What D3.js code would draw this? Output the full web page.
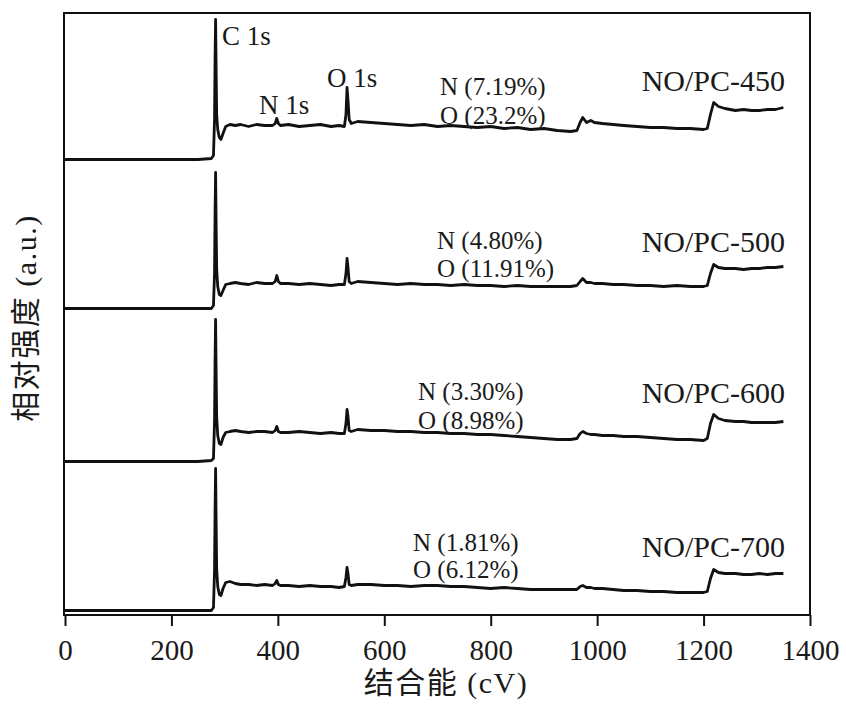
<!DOCTYPE html>
<html><head><meta charset="utf-8">
<script src="https://cdn.jsdelivr.net/npm/d3@7"></script>
<style>
html,body{margin:0;padding:0;background:#fff;}
svg text{font-family:"Liberation Serif","Times New Roman","Noto Sans CJK SC",serif;fill:#1a1a1a;}
</style></head>
<body>
<svg id="chart" width="846" height="709"></svg>
<script>
// ---- data ----
const energy = [0, 50, 100, 150, 200, 250, 275, 279, 281, 282, 283, 284, 285, 287, 290, 293, 297, 302, 310, 320, 330, 345, 360, 375, 390, 395, 398, 401, 405, 420, 440, 460, 480, 500, 515, 525, 528, 530, 532, 534, 538, 550, 575, 600, 625, 650, 675, 700, 725, 750, 775, 800, 825, 850, 875, 900, 925, 950, 962, 968, 973, 980, 988, 995, 1010, 1030, 1050, 1075, 1100, 1125, 1150, 1175, 1200, 1207, 1213, 1219, 1228, 1240, 1260, 1275, 1290, 1305, 1320, 1335, 1350];
const sampleNames = ["NO/PC-450", "NO/PC-500", "NO/PC-600", "NO/PC-700"];
const offsets = [451, 302, 149, 0];
const int450 = [0,0,0,0,0,0, 1,4,40,100,140,90,45,30,22,20, 26,33,35,34,35,33,35,34,34,36, 41,36,34,35,33,34,35,33,34,33, 45,72,58,40,36,38,37,36,35,34, 35,33,34,33,32,33,31,32,30,31, 29,28,29,37,42,37,39,37,36,35, 34,33,32,32,31,31,30,31,45,57, 53,51,49,50,49,49,50,50,52];
const int500 = [0,0,0,0,0,0, 0,3,35,95,136,85,40,22,14,13, 18,24,25,26,25,24,26,25,25,27, 33,27,25,25,24,25,24,23,24,24, 35,50,40,27,25,27,26,25,24,25, 24,24,23,24,23,23,22,23,22,22, 22,22,23,27,30,26,26,25,25,24, 24,23,23,22,23,22,22,23,35,44, 41,40,40,39,40,40,41,41,42];
const int600 = [0,0,0,0,0,0, 1,3,40,100,142,90,45,26,18,17, 24,29,30,31,30,29,30,30,29,31, 35,30,29,29,30,29,28,29,28,28, 38,52,44,31,30,32,31,31,30,30, 29,29,28,28,27,27,26,25,24,23, 22,22,23,28,30,28,27,27,26,26, 25,25,24,23,22,22,21,23,38,47, 43,41,40,40,39,39,39,39,40];
const int700 = [0,0,0,0,0,0, 0,3,40,100,142,90,42,24,16,15, 22,28,29,27,26,26,25,26,25,27, 30,26,25,25,24,25,24,24,23,24, 33,43,36,26,25,26,26,25,25,24, 25,25,24,24,23,22,23,22,21,21, 21,21,21,24,25,23,23,22,22,21, 20,20,19,19,18,18,18,19,32,41, 38,37,37,36,36,37,36,37,37];
const intensities = [int450, int500, int600, int700];
const peakLabels = ["C 1s", "N 1s", "O 1s"];
const nContent = ["N (7.19%)", "N (4.80%)", "N (3.30%)", "N (1.81%)"];
const oContent = ["O (23.2%)", "O (11.91%)", "O (8.98%)", "O (6.12%)"];
const xTicks = [0, 200, 400, 600, 800, 1000, 1200, 1400];
const xTitle = "结合能 (cV)";
const yTitle = "相对强度 (a.u.)";

// ---- layout ----
const svg = d3.select("#chart");
const L = 65, R = 810, T = 13, B = 615;
const x = d3.scaleLinear().domain([0, 1400]).range([L, R]);
const y = d3.scaleLinear().domain([-4.5, 597.5]).range([B, T]);

// spectra
const line = d3.line().x(d => x(d[0])).y(d => y(d[1]));
intensities.forEach((arr, i) => {
  const pts = energy.map((e, k) => [e, arr[k] + offsets[i]]);
  svg.append("path").attr("d", line(pts))
    .attr("fill", "none").attr("stroke", "#111").attr("stroke-width", 2.8)
    .attr("stroke-linejoin", "round");
});

// frame
svg.append("rect").attr("x", L - 1).attr("y", T).attr("width", R - L + 1).attr("height", B - T)
  .attr("fill", "none").attr("stroke", "#111").attr("stroke-width", 2);

// x axis
const ax = svg.append("g").attr("transform", `translate(0,${B})`)
  .call(d3.axisBottom(x).tickValues(xTicks).tickSize(11).tickPadding(13).tickFormat(d3.format("d")));
ax.select(".domain").remove();
ax.selectAll("line").attr("stroke", "#111").attr("stroke-width", 2);
ax.selectAll("text").attr("font-size", 29).attr("fill", "#1a1a1a")
  .style("font-family", '"Liberation Serif","Times New Roman",serif');

// axis titles
svg.append("text").attr("x", 446).attr("y", 693).attr("text-anchor", "middle")
  .attr("font-size", 30).attr("letter-spacing", 1.5).attr("fill", "#2a2a2a").text(xTitle);
svg.append("text").attr("transform", "translate(36,318) rotate(-90)").attr("text-anchor", "middle")
  .attr("font-size", 30).attr("letter-spacing", 1.5).attr("fill", "#2a2a2a").text(yTitle);

// peak labels (top spectrum)
const peakPos = [[222, 45], [259, 114], [327, 87]];
peakLabels.forEach((t, i) => {
  svg.append("text").attr("x", peakPos[i][0]).attr("y", peakPos[i][1]).attr("font-size", 27).text(t);
});

// sample names and contents
const nameY = [91, 252, 403, 557];
const nY = [95, 249, 400, 551];
const oY = [124, 277, 429, 578];
const cX = [440, 437, 418, 413];
sampleNames.forEach((s, i) => {
  svg.append("text").attr("x", 785).attr("y", nameY[i]).attr("text-anchor", "end")
    .attr("font-size", 30).text(s);
  svg.append("text").attr("x", cX[i]).attr("y", nY[i]).attr("font-size", 25).text(nContent[i]);
  svg.append("text").attr("x", cX[i]).attr("y", oY[i]).attr("font-size", 25).text(oContent[i]);
});
</script>
</body></html>
